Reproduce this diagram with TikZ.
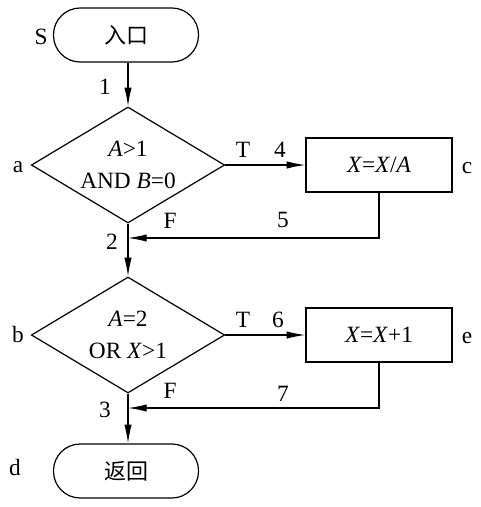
\documentclass[tikz,border=0pt]{standalone}
\usepackage{fontspec}
\setmainfont{Liberation Serif}
\newfontfamily\cjk{Noto Sans CJK SC}
\usetikzlibrary{shapes.geometric, arrows.meta}

\tikzset{
  flowline/.style={line width=0.9pt},
  flowarrow/.style={flowline, -{Latex[length=14pt, width=5.5pt]}},
  terminal/.style={draw, flowline, rectangle, rounded corners=20pt,
    minimum width=108.75pt, minimum height=40.5pt,
    font=\fontsize{16.5}{20}\selectfont\cjk},
  decision/.style={draw, flowline, diamond, aspect=1.67, inner sep=-4pt,
    align=center, minimum width=145pt, minimum height=87pt,
    font=\fontsize{17.5}{23.5}\selectfont},
  process/.style={draw, flowline, rectangle,
    minimum width=109.5pt, minimum height=40.5pt},
  tag/.style={inner sep=0pt},
}

\begin{document}
\begin{tikzpicture}[x=0.75pt, y=-0.75pt, font=\fontsize{17.5}{21}\selectfont]

    % Frame of the picture
    \useasboundingbox (0,0) rectangle (480,507);

    % Entry and exit
    \node[terminal] (start) at (126,35) {入口};
    \node[terminal] (stop) at (126,471) {返回};

    % Decisions
    \node[decision] (da) at (128,165) {\textit{A}>1\\AND \textit{B}=0};
    \node[decision] (db) at (128,335) {\textit{A}=2\\OR \textit{X}>1};

    % Assignments
    \node[process] (bc) at (379,165) {\textit{X}=\textit{X}/\textit{A}};
    \node[process] (be) at (379,335) {\textit{X}=\textit{X}+1};

    % Join points
    \coordinate (j2) at (128,238);
    \coordinate (j3) at (128,408);

    % Main path
    \draw[flowarrow] (start.south -| da.north) -- (da);
    \draw[flowarrow] (da) -- (db);
    \draw[flowarrow] (db) -- (stop.north -| db.south);

    % True branches
    \draw[flowarrow] (da) -- (bc);
    \draw[flowarrow] (db) -- (be);

    % Back to the main path
    \draw[flowarrow] (bc.south) |- (j2);
    \draw[flowarrow] (be.south) |- (j3);

    % Node letters
    \node[tag] (ls) at (41,37) {S};
    \node[tag] (la) at (18,167) {a};
    \node[tag] (lb) at (18,335) {b};
    \node[tag] (lc) at (467,168) {c};
    \node[tag] (ld) at (15,468) {d};
    \node[tag] (le) at (467,338) {e};

    % Edge numbers
    \node[tag] (n1) at (105,87) {1};
    \node[tag] (n2) at (112,242) {2};
    \node[tag] (n3) at (105,410) {3};
    \node[tag] (n4) at (280,150) {4};
    \node[tag] (n5) at (283,220) {5};
    \node[tag] (n6) at (278,320) {6};
    \node[tag] (n7) at (283,394) {7};

    % Branch labels
    \node[tag] (ta) at (243,150) {T};
    \node[tag] (fa) at (170,221) {F};
    \node[tag] (tb) at (243,320) {T};
    \node[tag] (fb) at (170,391) {F};
\end{tikzpicture}
\end{document}
